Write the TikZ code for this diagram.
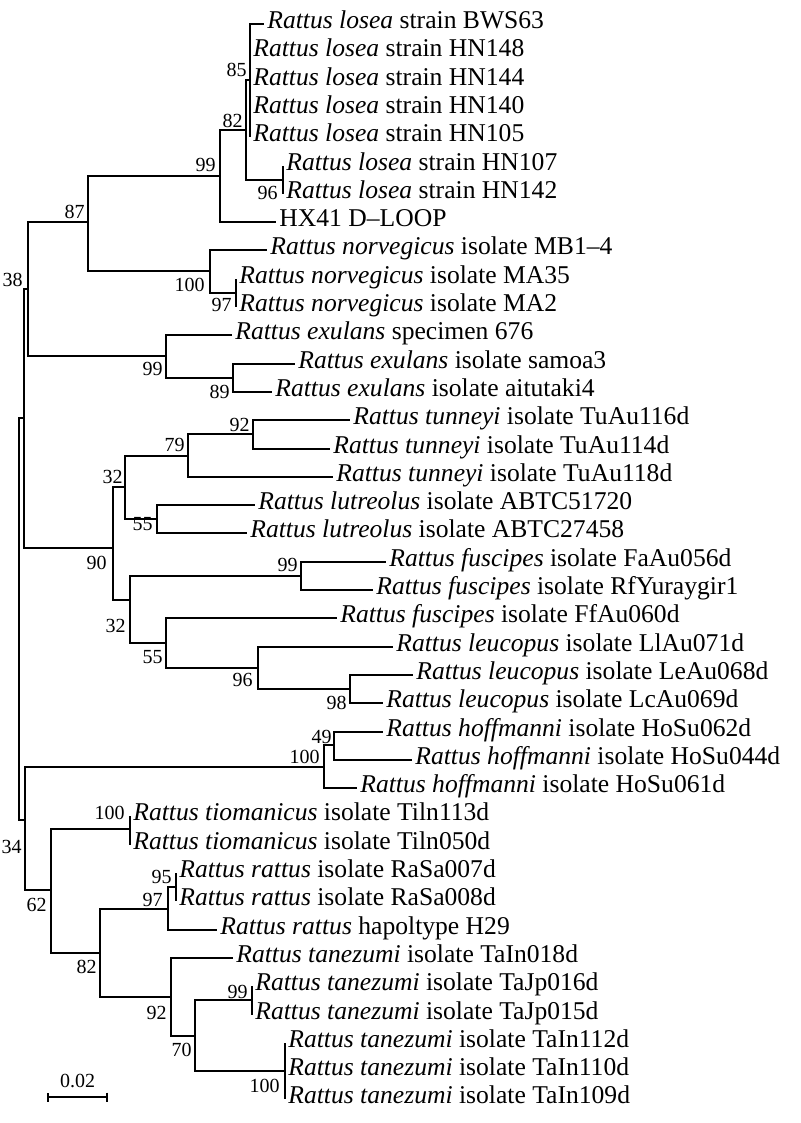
\documentclass[tikz,border=0pt]{standalone}
\usepackage{fontspec}
\setmainfont{Liberation Serif}
\usetikzlibrary{arrows.meta}
\newcommand{\ratt}[1]{\textit{Rattus #1}}
\newcommand{\leaffont}{\fontsize{12.8pt}{14pt}\selectfont}
\newcommand{\bootfont}{\fontsize{10pt}{12pt}\selectfont}

\begin{document}
\begin{tikzpicture}[x=0.5pt,y=-0.5pt,
  branch/.style={line width=1pt},
  leaf/.style={anchor=mid west,inner xsep=1.5pt,inner ysep=0pt,font=\leaffont},
  boot/.style={anchor=east,inner sep=0pt,font=\bootfont}]
\useasboundingbox (0,0) rectangle (800,1123);
% internal nodes (x, attach y)
\coordinate (root) at (19,619);
\coordinate (nA) at (24,418);
\coordinate (n38) at (28,289);
\coordinate (n87) at (88,222);
\coordinate (n99a) at (220,176);
\coordinate (n82a) at (246,130);
\coordinate (n85) at (250,80);
\coordinate (n96a) at (283,180);
\coordinate (n100a) at (210,271);
\coordinate (n97a) at (236,293);
\coordinate (n99b) at (166,356);
\coordinate (n89) at (233,378);
\coordinate (n90) at (113,548);
\coordinate (n32a) at (125,487);
\coordinate (n79) at (188,456);
\coordinate (n92a) at (253,434);
\coordinate (n55a) at (157,519);
\coordinate (n32b) at (130,600);
\coordinate (n99c) at (301,576);
\coordinate (n55b) at (166,643);
\coordinate (n96b) at (258,668);
\coordinate (n98) at (350,689);
\coordinate (n34) at (25,820);
\coordinate (n100b) at (324,767);
\coordinate (n49) at (334,745);
\coordinate (n62) at (51,890);
\coordinate (n100c) at (130,829);
\coordinate (n82b) at (100,953);
\coordinate (n97b) at (168,909);
\coordinate (n95) at (176,887);
\coordinate (n92b) at (171,997);
\coordinate (n70) at (195,1036);
\coordinate (n99d) at (252,1000);
\coordinate (n100d) at (285,1071);
% leaves: name/x/row/species/rest
\foreach \nm/\xx/\rr/\spc/\rest in {
  bws/264/0/losea/{strain BWS63}, hn148/250/1/losea/{strain HN148},
  hn144/250/2/losea/{strain HN144}, hn140/250/3/losea/{strain HN140},
  hn105/250/4/losea/{strain HN105}, hn107/283/5/losea/{strain HN107},
  hn142/283/6/losea/{strain HN142},
  mb14/267/8/norvegicus/{isolate MB1\textendash4}, ma35/236/9/norvegicus/{isolate MA35},
  ma2/236/10/norvegicus/{isolate MA2},
  s676/232/11/exulans/{specimen 676}, samoa/295/12/exulans/{isolate samoa3},
  aitu/272/13/exulans/{isolate aitutaki4},
  tu116/350/14/tunneyi/{isolate TuAu116d}, tu114/330/15/tunneyi/{isolate TuAu114d},
  tu118/333/16/tunneyi/{isolate TuAu118d},
  ab51/255/17/lutreolus/{isolate ABTC51720}, ab27/247/18/lutreolus/{isolate ABTC27458},
  fa056/386/19/fuscipes/{isolate FaAu056d}, rfyu/373/20/fuscipes/{isolate RfYuraygir1},
  ff060/337/21/fuscipes/{isolate FfAu060d},
  ll071/393/22/leucopus/{isolate LlAu071d}, le068/413/23/leucopus/{isolate LeAu068d},
  lc069/383/24/leucopus/{isolate LcAu069d},
  ho062/383/25/hoffmanni/{isolate HoSu062d}, ho044/412/26/hoffmanni/{isolate HoSu044d},
  ho061/357/27/hoffmanni/{isolate HoSu061d},
  ti113/130/28/tiomanicus/{isolate Tiln113d}, ti050/130/29/tiomanicus/{isolate Tiln050d},
  ra007/176/30/rattus/{isolate RaSa007d}, ra008/176/31/rattus/{isolate RaSa008d},
  h29/217/32/rattus/{hapoltype H29},
  ta018/233/33/tanezumi/{isolate TaIn018d}, tj016/252/34/tanezumi/{isolate TaJp016d},
  tj015/252/35/tanezumi/{isolate TaJp015d}, ta112/285/36/tanezumi/{isolate TaIn112d},
  ta110/285/37/tanezumi/{isolate TaIn110d}, ta109/285/38/tanezumi/{isolate TaIn109d}}
  \node[leaf] (\nm) at (\xx,{round(24+28.3*\rr)}) {\ratt{\spc} \rest};
\node[leaf] (hx41) at (276,222) {HX41 D\textendash LOOP};
% branches
\foreach \p/\c in {root/nA, root/n34, nA/n38, nA/n90, n38/n87, n38/n99b,
  n87/n99a, n87/n100a, n99a/n82a, n82a/n85, n82a/n96a, n100a/n97a, n99b/n89,
  n90/n32a, n90/n32b, n32a/n79, n32a/n55a, n79/n92a, n32b/n99c, n32b/n55b,
  n55b/n96b, n96b/n98, n34/n100b, n34/n62, n100b/n49, n62/n100c, n62/n82b,
  n82b/n97b, n82b/n92b, n97b/n95, n92b/n70, n70/n99d, n70/n100d}
  \draw[branch] (\p) |- (\c);
\foreach \p/\c in {n85/bws, n85/hn148, n85/hn144, n85/hn140, n85/hn105,
  n96a/hn107, n96a/hn142, n99a/hx41, n100a/mb14, n97a/ma35, n97a/ma2,
  n99b/s676, n89/samoa, n89/aitu, n92a/tu116, n92a/tu114, n79/tu118,
  n55a/ab51, n55a/ab27, n99c/fa056, n99c/rfyu, n55b/ff060, n96b/ll071,
  n98/le068, n98/lc069, n49/ho062, n49/ho044, n100b/ho061, n100c/ti113,
  n100c/ti050, n95/ra007, n95/ra008, n97b/h29, n92b/ta018, n99d/tj016,
  n99d/tj015, n100d/ta112, n100d/ta110, n100d/ta109}
  \draw[branch] (\p) |- (\c.mid west);
% bootstrap values
\foreach \nm/\xx/\yy/\val in {85/247/70/85, 82a/243/121/82, 99a/216/165/99,
  96a/278/193/96, 87/85/212/87, 38/23/280/38, 100a/205/285/100, 97a/232/305/97,
  99b/163/369/99, 89/230/392/89, 92a/250/425/92, 79/185/445/79, 32a/123/477/32,
  55a/153/524/55, 90/107/563/90, 99c/298/565/99, 32b/126/626/32, 55b/163/657/55,
  96b/253/680/96, 98/347/703/98, 49/332/737/49, 100b/320/757/100, 34/22/847/34,
  100c/125/813/100, 62/47/905/62, 95/172/877/95, 97b/163/900/97, 82b/97/967/82,
  99d/248/992/99, 92b/167/1013/92, 70/192/1050/70, 100d/280/1086/100}
  \node[boot] (b\nm) at (\xx,\yy) {\val};
% scale bar
\coordinate (sbl) at (47,1097);
\coordinate (sbr) at (108,1097);
\draw[branch,{Bar[width=4.5pt]}-{Bar[width=4.5pt]}] (sbl) -- (sbr);
\node[boot,anchor=center] (sblab) at (77.5,1081) {0.02};
\end{tikzpicture}
\end{document}
